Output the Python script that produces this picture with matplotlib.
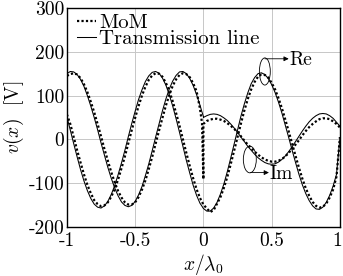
import numpy as np
import matplotlib
matplotlib.use('Agg')
import matplotlib.pyplot as plt
import matplotlib.transforms as mtransforms
from matplotlib.patches import Ellipse

plt.rcParams['font.family'] = 'cmr10'
plt.rcParams['mathtext.fontset'] = 'cm'
plt.rcParams['axes.unicode_minus'] = False

# posicoes (x / lambda0) - duas amostras em x=0 por causa da fonte
x_pts = [-1.0, -0.975, -0.95, -0.925, -0.9, -0.875, -0.85, -0.825, -0.8, -0.775,
         -0.75, -0.725, -0.7, -0.675, -0.65, -0.625, -0.6, -0.575, -0.55, -0.525,
         -0.5, -0.475, -0.45, -0.425, -0.4, -0.375, -0.35, -0.325, -0.3, -0.275,
         -0.25, -0.225, -0.2, -0.175, -0.15, -0.125, -0.1, -0.075, -0.05, -0.025,
         -0.01, 0.0, 0.0, 0.025, 0.05, 0.075, 0.1, 0.125, 0.15, 0.175,
         0.2, 0.225, 0.25, 0.275, 0.3, 0.325, 0.35, 0.375, 0.4, 0.425,
         0.45, 0.475, 0.5, 0.525, 0.55, 0.575, 0.6, 0.625, 0.65, 0.675,
         0.7, 0.725, 0.75, 0.775, 0.8, 0.825, 0.85, 0.875, 0.9, 0.925,
         0.95, 0.975, 1.0]

# parte real [V]
re_tl = [51, 21, -10, -40, -69, -95, -117, -135, -148, -155,
         -157, -152, -142, -126, -106, -81, -54, -25, 6, 36,
         64, 91, 113, 132, 145, 153, 155, 151, 140, 124,
         102, 76, 47, 16, -16, -48, -77, -105, -128, -146,
         -153, -158, -158, -164, -164, -157, -144, -125, -102, -74,
         -43, -11, 21, 53, 81, 106, 127, 141, 150, 152,
         148, 139, 125, 107, 85, 60, 32, 4, -25, -53,
         -80, -104, -124, -140, -152, -159, -160, -155, -144, -128,
         -107, -80, 3]
re_mom = [57, 35, 5, -25, -53, -80, -104, -123, -139, -148,
          -153, -151, -144, -131, -114, -92, -66, -39, -9, 21,
          49, 76, 100, 120, 136, 146, 151, 150, 143, 129,
          111, 87, 60, 31, 0, -31, -61, -89, -114, -134,
          -143, -149, -149, -158, -166, -162, -147, -132, -111, -86,
          -57, -26, 5, 36, 66, 92, 114, 131, 143, 148,
          147, 141, 129, 114, 94, 71, 45, 18, -10, -38,
          -65, -90, -112, -129, -143, -152, -156, -154, -147, -133,
          -115, -85, 5]

# parte imaginaria [V]
im_tl = [150, 155, 154, 148, 137, 121, 100, 76, 50, 22,
         -8, -36, -64, -89, -111, -129, -143, -151, -154, -151,
         -142, -127, -108, -83, -56, -26, 5, 35, 65, 92,
         115, 133, 146, 154, 155, 150, 139, 123, 102, 78,
         62, 52, 50, 54, 57, 58, 57, 54, 49, 43,
         35, 26, 16, 5, -5, -16, -25, -34, -42, -48,
         -53, -56, -57, -56, -52, -46, -38, -28, -17, -5,
         7, 19, 30, 40, 48, 54, 58, 59, 58, 54,
         48, 39, 30]
im_mom = [145, 149, 151, 148, 140, 126, 108, 86, 62, 35,
          7, -22, -49, -75, -98, -118, -133, -144, -149, -149,
          -144, -132, -115, -94, -68, -40, -10, 20, 49, 77,
          101, 122, 137, 147, 151, 149, 142, 128, 110, 70,
          37, -91, 35, 42, 45, 47, 47, 45, 42, 37,
          31, 24, 16, 7, -3, -12, -20, -28, -35, -41,
          -46, -49, -51, -51, -49, -45, -39, -31, -22, -12,
          -2, 9, 19, 28, 35, 41, 46, 48, 48, 46,
          41, 35, 27]

xticks = [-1, -0.5, 0, 0.5, 1]
xtick_labels = ['-1', '-0.5', '0', '0.5', '1']
yticks = [-200, -100, 0, 100, 200, 300]
ytick_labels = ['-200', '-100', '0', '100', '200', '300']

fig = plt.figure(figsize=(3.43, 2.76), dpi=100)
ax = fig.add_axes([0.195, 0.178, 0.796, 0.793])

dots = dict(color='k', lw=1.6, linestyle=(0, (1, 1)), dash_capstyle='butt')
ax.plot(x_pts, re_mom, label='MoM', **dots)
ax.plot(x_pts, re_tl, 'k-', lw=0.75, label='Transmission line')
ax.plot(x_pts, im_mom, **dots)
ax.plot(x_pts, im_tl, 'k-', lw=0.75)

ax.set_xlim(-1, 1)
ax.set_ylim(-200, 300)
ax.set_xticks(xticks)
ax.set_xticklabels(xtick_labels)
ax.set_yticks(yticks)
ax.set_yticklabels(ytick_labels)
ax.tick_params(length=0, labelsize=14)
ax.tick_params(axis='x', pad=4)
ax.tick_params(axis='y', pad=2)
ax.grid(True, color='0.78', lw=0.7)
for s in ax.spines.values():
    s.set_linewidth(1.0)

# o "1" da direita fica encostado a borda: puxar 2 px para dentro
ultimo = ax.get_xticklabels()[-1]
ultimo.set_transform(ultimo.get_transform() +
                     mtransforms.ScaledTranslation(-3 / 100, 0, fig.dpi_scale_trans))

ax.set_xlabel(r'$x/\lambda_0$', fontsize=14, labelpad=1)
ax.set_ylabel(r'$v(x)$  [V]', fontsize=14, labelpad=2)

# marcacoes Re / Im
ax.add_patch(Ellipse((0.45, 155), 0.08, 62, fill=False, ec='k', lw=0.6))
ax.annotate('', xy=(0.625, 184), xytext=(0.45, 184),
            arrowprops=dict(arrowstyle='-|>', lw=0.6, color='k',
                            mutation_scale=7, shrinkA=0, shrinkB=0))
ax.text(0.63, 181, 'Re', fontsize=14, va='center', ha='left')

ax.add_patch(Ellipse((0.34, -46), 0.095, 61, fill=False, ec='k', lw=0.6))
ax.annotate('', xy=(0.48, -76), xytext=(0.345, -76),
            arrowprops=dict(arrowstyle='-|>', lw=0.6, color='k',
                            mutation_scale=7, shrinkA=0, shrinkB=0))
ax.text(0.485, -79, 'Im', fontsize=14, va='center', ha='left')

ax.legend(loc='upper left', bbox_to_anchor=(0.03, 0.985), frameon=False,
          fontsize=15, handlelength=0.9, handletextpad=0.15,
          labelspacing=-0.1, borderpad=0.1, borderaxespad=0)

fig.savefig('out.png', dpi=100)
